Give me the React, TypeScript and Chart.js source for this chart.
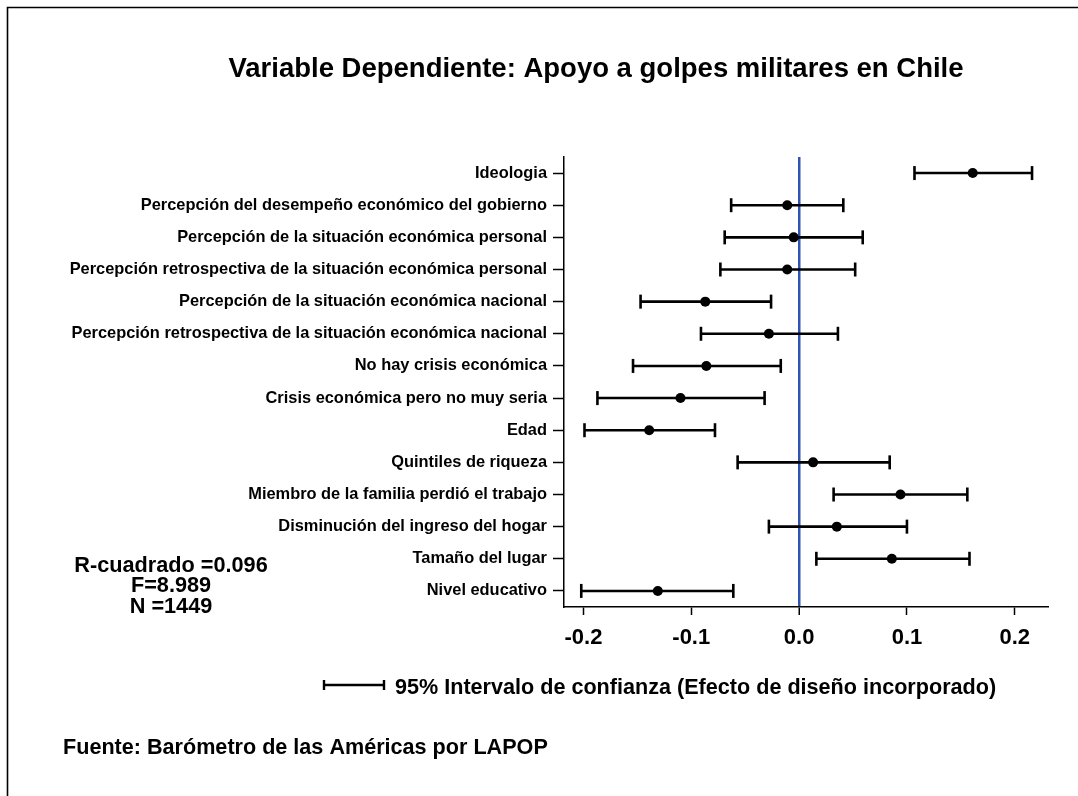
import React, { useEffect, useRef } from "react";
import { Chart, registerables } from "chart.js";

Chart.register(...registerables);

const categories: string[] = [
  "Ideologia",
  "Percepción del desempeño económico del gobierno",
  "Percepción de la situación económica personal",
  "Percepción retrospectiva de la situación económica personal",
  "Percepción de la situación económica nacional",
  "Percepción retrospectiva de la situación económica nacional",
  "No hay crisis económica",
  "Crisis económica pero no muy seria",
  "Edad",
  "Quintiles de riqueza",
  "Miembro de la familia perdió el trabajo",
  "Disminución del ingreso del hogar",
  "Tamaño del lugar",
  "Nivel educativo",
];

const estimates: number[] = [
  0.161, -0.011, -0.005, -0.011, -0.087, -0.028, -0.086, -0.11, -0.139, 0.013,
  0.094, 0.035, 0.086, -0.131,
];
const lower: number[] = [
  0.107, -0.063, -0.069, -0.073, -0.147, -0.091, -0.154, -0.187, -0.199, -0.057,
  0.032, -0.028, 0.016, -0.202,
];
const upper: number[] = [
  0.216, 0.041, 0.059, 0.052, -0.026, 0.036, -0.017, -0.032, -0.078, 0.084,
  0.156, 0.1, 0.158, -0.061,
];

const xTickValues: number[] = [-0.2, -0.1, 0.0, 0.1, 0.2];

const titleText = "Variable Dependiente: Apoyo a golpes militares en Chile";
const statsLines: string[] = ["R-cuadrado =0.096", "F=8.989", "N =1449"];
const legendText = "95% Intervalo de confianza (Efecto de diseño incorporado)";
const sourceText = "Fuente: Barómetro de las Américas por LAPOP";

const FONT = "'Liberation Sans', Arial, Helvetica, sans-serif";
const BLUE = "#2f54b4";

export default function App() {
  const ref = useRef<HTMLCanvasElement | null>(null);

  useEffect(() => {
    if (!ref.current) return;

    const ciDatasets = categories.map((_, i) => ({
      type: "scatter" as const,
      data: [
        { x: lower[i], y: i },
        { x: upper[i], y: i },
      ],
      showLine: true,
      borderColor: "#000",
      borderWidth: 2.6,
      pointRadius: 7,
      pointStyle: "line" as const,
      rotation: 90,
      pointBorderColor: "#000",
      pointBorderWidth: 2.6,
      order: 2,
    }));

    const decorations = {
      id: "decorations",
      afterDraw(chart: any) {
        const c = chart.ctx as CanvasRenderingContext2D;
        c.save();
        c.fillStyle = "#000";
        c.strokeStyle = "#000";
        // frame
        c.lineWidth = 1.6;
        c.beginPath();
        c.moveTo(7.5, 796);
        c.lineTo(7.5, 7.5);
        c.lineTo(1078, 7.5);
        c.stroke();
        // title
        c.textBaseline = "middle";
        c.textAlign = "center";
        c.font = `bold 27.5px ${FONT}`;
        c.fillText(titleText, 596, 69);
        // stats
        c.font = `bold 21.7px ${FONT}`;
        statsLines.forEach((t, k) => c.fillText(t, 171, 566 + k * 20.5));
        // legend symbol
        c.lineWidth = 2.4;
        c.beginPath();
        c.moveTo(324, 685);
        c.lineTo(384, 685);
        c.moveTo(324, 680);
        c.lineTo(324, 690);
        c.moveTo(384, 680);
        c.lineTo(384, 690);
        c.stroke();
        c.textAlign = "left";
        c.font = `bold 21.6px ${FONT}`;
        c.fillText(legendText, 395, 688);
        // source
        c.font = `bold 21.6px ${FONT}`;
        c.fillText(sourceText, 63, 748);
        c.restore();
      },
    };

    const chart = new Chart(ref.current, {
      type: "scatter",
      data: {
        datasets: [
          ...ciDatasets,
          {
            type: "scatter" as const,
            data: estimates.map((v, i) => ({ x: v, y: i })),
            pointRadius: 5,
            pointStyle: "circle" as const,
            backgroundColor: "#000",
            borderColor: "#000",
            borderWidth: 0,
            order: 1,
          },
        ],
      },
      options: {
        animation: false,
        responsive: false,
        layout: { padding: { top: 157, right: 30, left: 0, bottom: 0 } },
        plugins: {
          legend: { display: false },
          tooltip: { enabled: false },
          title: { display: false },
        },
        scales: {
          x: {
            type: "linear",
            min: -0.218,
            max: 0.2308,
            afterFit(scale: any) {
              scale.height = 189;
            },
            afterBuildTicks(scale: any) {
              scale.ticks = xTickValues.map((v) => ({ value: v }));
            },
            border: { display: true, color: "#000", width: 1.5 },
            grid: {
              drawOnChartArea: true,
              color: (ctx: any) =>
                ctx.tick && Math.abs(ctx.tick.value) < 1e-9 ? BLUE : "rgba(0,0,0,0)",
              lineWidth: (ctx: any) =>
                ctx.tick && Math.abs(ctx.tick.value) < 1e-9 ? 2.5 : 1,
              tickColor: "#000",
              tickWidth: 1.5,
              tickLength: 8,
            },
            ticks: {
              color: "#000",
              padding: 10,
              font: { family: FONT, size: 22, weight: "bold" },
              callback: (v: any) => Number(v).toFixed(1),
              maxRotation: 0,
            },
          },
          y: {
            type: "linear",
            min: -0.5,
            max: 13.5,
            reverse: true,
            afterFit(scale: any) {
              scale.width = 564;
            },
            afterBuildTicks(scale: any) {
              scale.ticks = categories.map((_, i) => ({ value: i }));
            },
            border: { display: true, color: "#000", width: 1.5 },
            grid: {
              drawOnChartArea: false,
              color: "#000",
              tickColor: "#000",
              tickWidth: 1.5,
              tickLength: 11,
            },
            ticks: {
              color: "#000",
              padding: 6,
              autoSkip: false,
              font: { family: FONT, size: 16.4, weight: "bold" },
              callback: (v: any) => categories[Math.round(Number(v))] ?? "",
            },
          },
        },
      },
      plugins: [decorations],
    });

    return () => chart.destroy();
  }, []);

  return (
    <div style={{ position: "absolute", left: 0, top: 0, width: 1078, height: 796, background: "#fff" }}>
      <canvas ref={ref} width={1078} height={796} style={{ display: "block" }} />
    </div>
  );
}
